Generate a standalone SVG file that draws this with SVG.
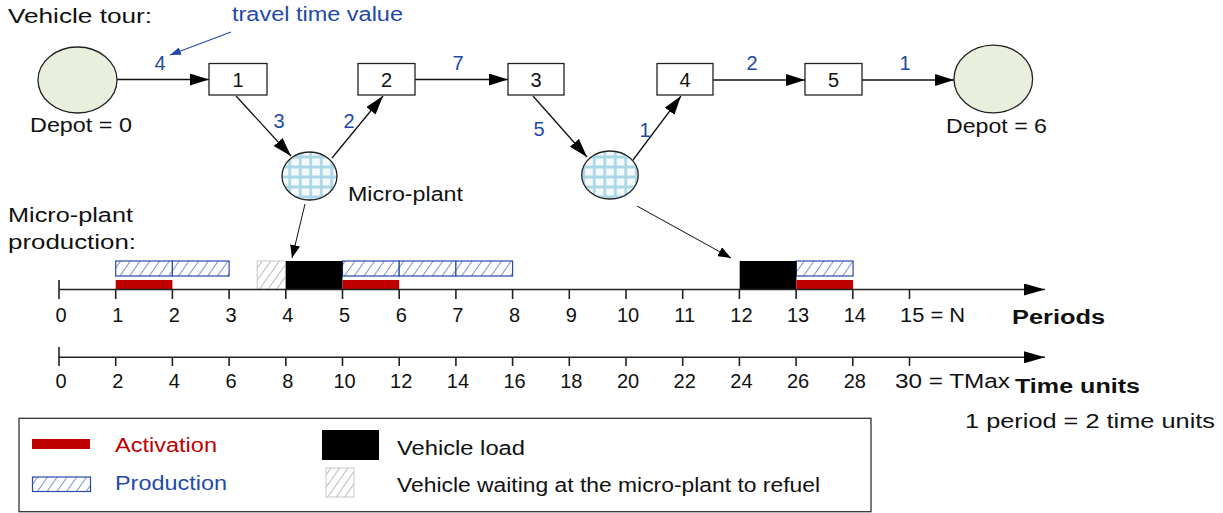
<svg xmlns="http://www.w3.org/2000/svg" width="1223" height="513" viewBox="0 0 1223 513">
<style>
text{font-family:"Liberation Sans",Arial,sans-serif;font-size:20px;fill:#111}
.b{fill:#1f4aa8}
.r{fill:#c00000}
.c{text-anchor:middle}
.bold{font-weight:bold}
.ln{stroke:#111;stroke-width:1.3;fill:none}
.box{fill:#fff;stroke:#222;stroke-width:1.3}
.depot{fill:#e8efdc;stroke:#222;stroke-width:1.3}
.mp{fill:url(#grid);stroke:#222;stroke-width:1.3}
.prod{fill:url(#hatchB);stroke:#2a4aa8;stroke-width:1.2}
.wait{fill:url(#hatchG);stroke:#c8c8c8;stroke-width:1}
.act{fill:#c00000}
.load{fill:#000}
.ax{stroke:#222;stroke-width:1.6;fill:none}
</style>
<defs>
<marker id="ah" markerUnits="userSpaceOnUse" markerWidth="20" markerHeight="12" refX="19" refY="6" orient="auto">
<path d="M0,0 L19,6 L0,12 Z" fill="#000"/>
</marker>
<marker id="ahs" markerUnits="userSpaceOnUse" markerWidth="14" markerHeight="10" refX="13" refY="5" orient="auto">
<path d="M0,0 L13,5 L0,10 Z" fill="#000"/>
</marker>
<marker id="ahb" markerUnits="userSpaceOnUse" markerWidth="12" markerHeight="8" refX="11" refY="4" orient="auto">
<path d="M0,0 L11,4 L0,8 Z" fill="#1f4aa8"/>
</marker>
<marker id="aha" markerUnits="userSpaceOnUse" markerWidth="22" markerHeight="12" refX="21" refY="6" orient="auto">
<path d="M0,0 L21,6 L0,12 Z" fill="#000"/>
</marker>
<pattern id="grid" patternUnits="userSpaceOnUse" x="1" y="2" width="10.5" height="10">
<rect width="10.5" height="10" fill="#f4fafc"/>
<path d="M5.25,0 V10 M0,5 H10.5" stroke="#acd8e6" stroke-width="2.8"/>
</pattern>
<pattern id="hatchB" patternUnits="userSpaceOnUse" width="8" height="8" patternTransform="rotate(35)">
<rect width="8" height="8" fill="#fff"/>
<path d="M0,0 V8" stroke="#2a4aa8" stroke-width="1.2"/>
</pattern>
<pattern id="hatchG" patternUnits="userSpaceOnUse" width="7" height="7" patternTransform="rotate(35)">
<rect width="7" height="7" fill="#fff"/>
<path d="M0,0 V7" stroke="#777" stroke-width="1"/>
</pattern>
</defs>
<rect width="1223" height="513" fill="#fff"/>

<text x="8" y="23" textLength="144" lengthAdjust="spacingAndGlyphs">Vehicle tour:</text>
<text class="b" x="232" y="21" textLength="171" lengthAdjust="spacingAndGlyphs">travel time value</text>

<g id="connectors">
<path class="ln" d="M117,79.5 H209" marker-end="url(#ah)"/>
<path class="ln" d="M236,96 L291,156" marker-end="url(#ah)"/>
<path class="ln" d="M332,158 L383,96" marker-end="url(#ah)"/>
<path class="ln" d="M415,79.5 H508" marker-end="url(#ah)"/>
<path class="ln" d="M533,96 L587,157" marker-end="url(#ah)"/>
<path class="ln" d="M633,160 L681,96" marker-end="url(#ah)"/>
<path class="ln" d="M713,80 H805" marker-end="url(#ah)"/>
<path class="ln" d="M862,80 H954" marker-end="url(#ah)"/>
<path d="M231,32 L170,55" stroke="#1f4aa8" stroke-width="1.1" fill="none" marker-end="url(#ahb)"/>
<path class="ln" style="stroke-width:1" d="M305,204 L292,258" marker-end="url(#ahs)"/>
<path class="ln" style="stroke-width:1" d="M637,206 L731,258" marker-end="url(#ahs)"/>
<text class="b c" x="160" y="70">4</text>
<text class="b c" x="279" y="128">3</text>
<text class="b c" x="349" y="128">2</text>
<text class="b c" x="458" y="70">7</text>
<text class="b c" x="539" y="136">5</text>
<text class="b c" x="645" y="137">1</text>
<text class="b c" x="752" y="70">2</text>
<text class="b c" x="905" y="70">1</text>
</g>

<g id="depot0">
<ellipse class="depot" cx="77.5" cy="80" rx="39.5" ry="33"/>
<text x="30" y="132" textLength="102" lengthAdjust="spacingAndGlyphs">Depot = 0</text>
</g>
<g id="node1"><rect class="box" x="209" y="63.5" width="58" height="31.5"/><text class="c" x="238" y="87">1</text></g>
<g id="node2"><rect class="box" x="358" y="63.5" width="57" height="31.5"/><text class="c" x="386.5" y="87">2</text></g>
<g id="node3"><rect class="box" x="508" y="63.5" width="56" height="31.5"/><text class="c" x="536" y="87">3</text></g>
<g id="node4"><rect class="box" x="657" y="63.5" width="56" height="31.5"/><text class="c" x="685" y="87">4</text></g>
<g id="node5"><rect class="box" x="805" y="63.5" width="57" height="31.5"/><text class="c" x="833.5" y="87">5</text></g>
<g id="depot6">
<ellipse class="depot" cx="993.3" cy="79" rx="39.3" ry="33.8"/>
<text x="946" y="133" textLength="101" lengthAdjust="spacingAndGlyphs">Depot = 6</text>
</g>
<g id="microplant1">
<ellipse class="mp" cx="309.5" cy="176" rx="27.5" ry="24"/>
<text x="348" y="201" textLength="115" lengthAdjust="spacingAndGlyphs">Micro-plant</text>
</g>
<g id="microplant2">
<ellipse class="mp" cx="610" cy="175" rx="28.3" ry="24"/>
</g>

<g id="production">
<text x="8" y="222" textLength="125" lengthAdjust="spacingAndGlyphs">Micro-plant</text>
<text x="8" y="249" textLength="128" lengthAdjust="spacingAndGlyphs">production:</text>
<rect class="prod" x="115.7" y="261" width="56.7" height="15"/>
<rect class="prod" x="172.4" y="261" width="56.7" height="15"/>
<rect class="prod" x="342.5" y="261" width="56.7" height="15"/>
<rect class="prod" x="399.2" y="261" width="56.7" height="15"/>
<rect class="prod" x="455.9" y="261" width="56.7" height="15"/>
<rect class="prod" x="796.4" y="261" width="56.7" height="15"/>
<rect class="wait" x="257.2" y="261" width="28.4" height="28.3"/>
<rect class="load" x="285.8" y="261" width="56.7" height="28.3"/>
<rect class="load" x="739.7" y="261" width="56.7" height="28.3"/>
<rect class="act" x="115.7" y="280" width="56.7" height="9.5"/>
<rect class="act" x="342.5" y="280" width="56.7" height="9.5"/>
<rect class="act" x="796.4" y="280" width="56.7" height="9.5"/>
</g>

<g id="periods-axis">
<path class="ax" d="M59,289.5 H1045" marker-end="url(#aha)"/>
<path class="ax" d="M59,280 V299 M115.7,289.5 V299 M172.4,289.5 V299 M229.1,289.5 V299 M285.8,289.5 V299 M342.5,289.5 V299 M399.2,289.5 V299 M455.9,289.5 V299 M512.6,289.5 V299 M569.3,289.5 V299 M626,289.5 V299 M682.7,289.5 V299 M739.4,289.5 V299 M796.1,289.5 V299 M852.8,289.5 V299 M909.5,289.5 V299"/>
<text class="c" x="61" y="322">0</text>
<text class="c" x="117.7" y="322">1</text>
<text class="c" x="174.4" y="322">2</text>
<text class="c" x="231.1" y="322">3</text>
<text class="c" x="287.8" y="322">4</text>
<text class="c" x="344.5" y="322">5</text>
<text class="c" x="401.2" y="322">6</text>
<text class="c" x="457.9" y="322">7</text>
<text class="c" x="514.6" y="322">8</text>
<text class="c" x="571.3" y="322">9</text>
<text class="c" x="628" y="322">10</text>
<text class="c" x="684.7" y="322">11</text>
<text class="c" x="741.4" y="322">12</text>
<text class="c" x="798.1" y="322">13</text>
<text class="c" x="854.8" y="322">14</text>
<text x="900" y="322" textLength="65" lengthAdjust="spacingAndGlyphs">15 = N</text>
<text class="bold" x="1012" y="324" textLength="93" lengthAdjust="spacingAndGlyphs">Periods</text>
</g>

<g id="time-axis">
<path class="ax" d="M59,357.3 H1045" marker-end="url(#aha)"/>
<path class="ax" d="M59,347 V366 M115.7,357.3 V366 M172.4,357.3 V366 M229.1,357.3 V366 M285.8,357.3 V366 M342.5,357.3 V366 M399.2,357.3 V366 M455.9,357.3 V366 M512.6,357.3 V366 M569.3,357.3 V366 M626,357.3 V366 M682.7,357.3 V366 M739.4,357.3 V366 M796.1,357.3 V366 M852.8,357.3 V366 M909.5,357.3 V366"/>
<text class="c" x="61" y="388">0</text>
<text class="c" x="117.7" y="388">2</text>
<text class="c" x="174.4" y="388">4</text>
<text class="c" x="231.1" y="388">6</text>
<text class="c" x="287.8" y="388">8</text>
<text class="c" x="344.5" y="388">10</text>
<text class="c" x="401.2" y="388">12</text>
<text class="c" x="457.9" y="388">14</text>
<text class="c" x="514.6" y="388">16</text>
<text class="c" x="571.3" y="388">18</text>
<text class="c" x="628" y="388">20</text>
<text class="c" x="684.7" y="388">22</text>
<text class="c" x="741.4" y="388">24</text>
<text class="c" x="798.1" y="388">26</text>
<text class="c" x="854.8" y="388">28</text>
<text x="895" y="388" textLength="115" lengthAdjust="spacingAndGlyphs">30 = TMax</text>
<text class="bold" x="1015" y="393" textLength="125" lengthAdjust="spacingAndGlyphs">Time units</text>
<text x="965" y="428" textLength="250" lengthAdjust="spacingAndGlyphs">1 period = 2 time units</text>
</g>

<g id="legend">
<rect x="19" y="418.3" width="852" height="93.4" fill="#fff" stroke="#333" stroke-width="1.3"/>
<rect class="act" x="32" y="439" width="58" height="10"/>
<text class="r" x="115" y="452" textLength="102" lengthAdjust="spacingAndGlyphs">Activation</text>
<rect class="prod" x="32.5" y="477" width="58" height="14.5"/>
<text class="b" x="115" y="490" textLength="112" lengthAdjust="spacingAndGlyphs">Production</text>
<rect class="load" x="322" y="430" width="57" height="30"/>
<text x="397" y="455" textLength="128" lengthAdjust="spacingAndGlyphs">Vehicle load</text>
<rect class="wait" x="326" y="468" width="28" height="29"/>
<text x="397" y="492" textLength="423" lengthAdjust="spacingAndGlyphs">Vehicle waiting at the micro-plant to refuel</text>
</g>
</svg>
